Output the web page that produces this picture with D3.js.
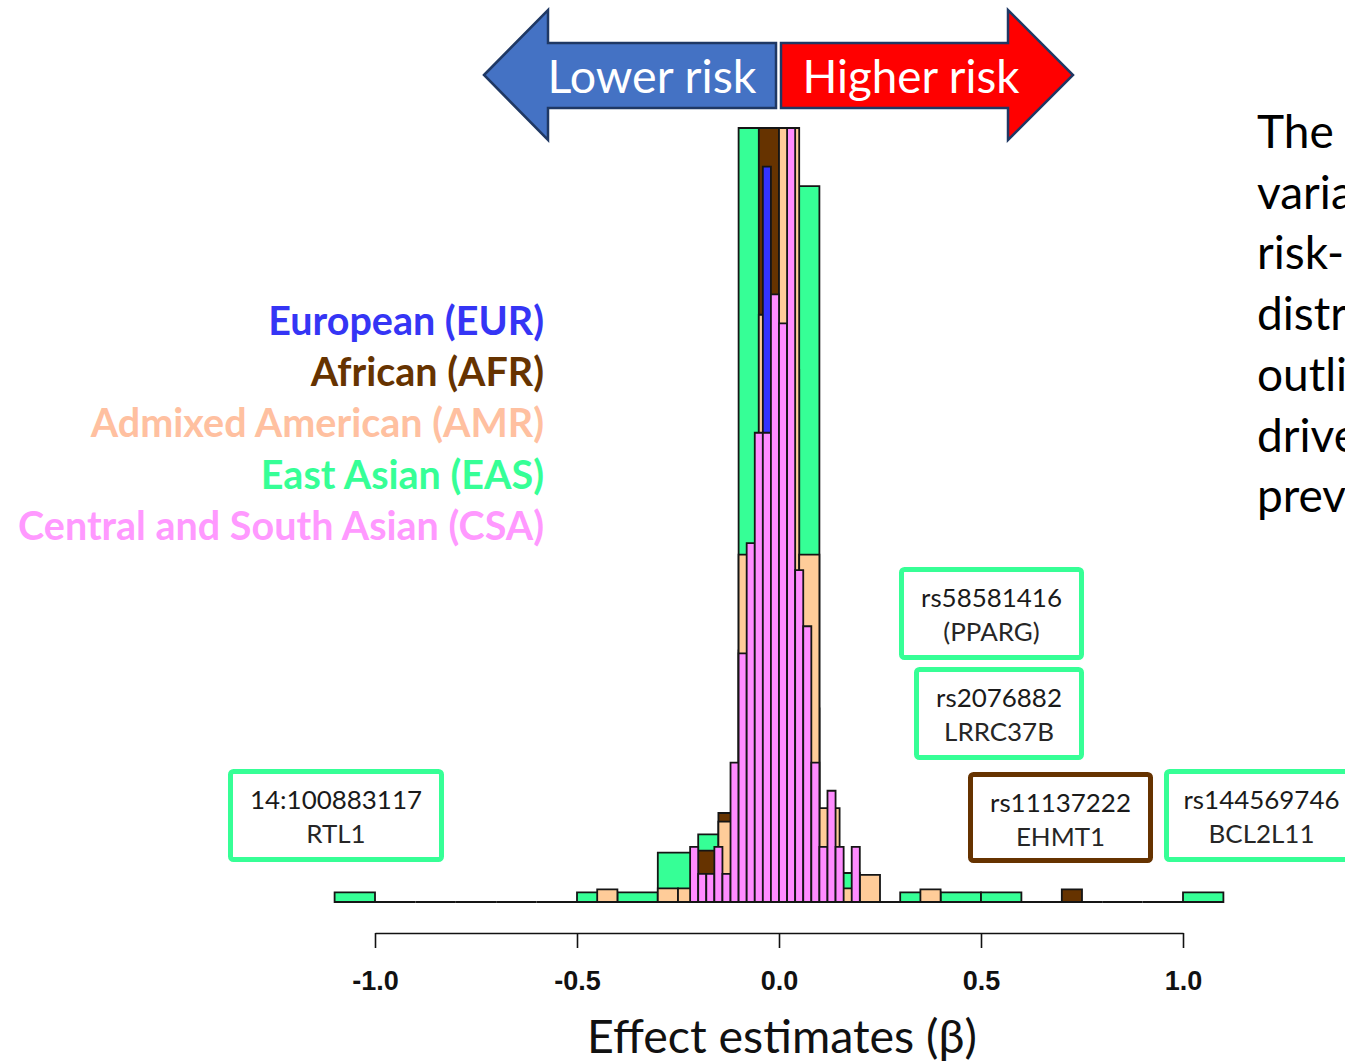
<!DOCTYPE html>
<html>
<head>
<meta charset="utf-8">
<script src="https://cdn.jsdelivr.net/npm/d3@7"></script>
<style>
  body { margin: 0; background: #fff; overflow: hidden; }
  svg { display: block; }
</style>
</head>
<body>
<div id="chart"></div>
<script>
// ---- data (densities; tall bars are clipped at the top) ----
const popOrder = ["EAS", "AFR", "AMR", "EUR", "CSA"];   // back to front
const legendLabels = ["European (EUR)", "African (AFR)", "Admixed American (AMR)", "East Asian (EAS)", "Central and South Asian (CSA)"];
const legendKeys = ["EUR", "AFR", "AMR", "EAS", "CSA"];

// East Asian, bins of 0.1 from -1.1
const easStart = -1.1, easBin = 0.1;
const easValues = [0.10, 0, 0, 0, 0, 0, 0.10, 0.10, 0.51, 0.70, 9.0, 7.40, 0.30, 0, 0.10, 0.10, 0.10, 0, 0, 0, 0, 0.10];

// African, bins of 0.05 from -0.2
const afrStart = -0.2, afrBin = 0.05;
const afrValues = [0.53, 0.92, 2.6, 9.0, 5.5, 2.0, 0.4, 0, 0, 0, 0, 0, 0, 0, 0, 0, 0, 0, 0.13];

// Admixed American, bins of 0.05 from -0.45
const amrStart = -0.45, amrBin = 0.05;
const amrValues = [0.13, 0, 0, 0.14, 0.14, 0.14, 0.83, 3.59, 6.07, 9.0, 3.59, 0.97, 0.14, 0.28, 0, 0, 0.13];

// European, bins of 0.02 from -0.08
const eurStart = -0.08, eurBin = 0.02;
const eurValues = [1.2, 3.2, 7.60, 5.2, 3.6, 2.0, 0.8];

// Central and South Asian, bins of 0.02 from -0.22
const csaStart = -0.22, csaBin = 0.02;
const csaValues = [0.57, 0.29, 0.29, 0.57, 0.29, 1.44, 2.57, 3.71, 4.85, 4.85, 6.28, 5.98, 9.0, 3.43, 2.85, 1.44, 0.57, 1.15, 0.57, 0, 0.57];

const xTicks = [-1.0, -0.5, 0.0, 0.5, 1.0];

const outlierTop = ["rs58581416", "rs2076882", "14:100883117", "rs11137222", "rs144569746"];
const outlierBottom = ["(PPARG)", "LRRC37B", "RTL1", "EHMT1", "BCL2L11"];
const outlierPop = ["EAS", "EAS", "EAS", "AFR", "EAS"];

// only the part of the side text that is visible in the picture
const sideText = ["The", "varia", "risk-", "distr", "outli", "drive", "prev"];

// ---- styles / layout ----
const W = 1345, H = 1063;
const barColor = { EAS: "#36ff96", AFR: "#663300", AMR: "#ffcc99", EUR: "#3333ff", CSA: "#ff8cff" };
const textColor = { EUR: "#3535f5", AFR: "#663300", AMR: "#ffc0a0", EAS: "#36ff96", CSA: "#ff99ff" };
const boxLayout = [
  { x: 901.5, y: 569.5, w: 180, h: 88 },
  { x: 916.5, y: 669.5, w: 165, h: 88 },
  { x: 230.5, y: 771.5, w: 211, h: 88 },
  { x: 970.5, y: 774.5, w: 180, h: 86 },
  { x: 1166.5, y: 771.5, w: 190, h: 88 }
];
const calibri = "Lato, 'Open Sans', sans-serif";

const svg = d3.select("#chart").append("svg").attr("width", W).attr("height", H);

const x = d3.scaleLinear().domain([-1, 1]).range([375, 1183]);
const y = d3.scaleLinear().domain([0, 8]).range([902, 128]).clamp(true);

function fit(sel, width) {
  const w = sel.node().getComputedTextLength();
  sel.attr("font-size", parseFloat(sel.attr("font-size")) * width / w);
  return sel;
}

// ---- histograms ----
const hist = {
  EAS: [easStart, easBin, easValues],
  AFR: [afrStart, afrBin, afrValues],
  AMR: [amrStart, amrBin, amrValues],
  EUR: [eurStart, eurBin, eurValues],
  CSA: [csaStart, csaBin, csaValues]
};

popOrder.forEach(key => {
  const [start, bin, vals] = hist[key];
  const bins = vals.map((v, i) => ({ x0: start + i * bin, x1: start + (i + 1) * bin, v }));
  svg.append("g")
    .selectAll("path")
    .data(bins)
    .join("path")
    .attr("d", d => `M${x(d.x0)},${y(0)}V${y(d.v)}H${x(d.x1)}V${y(0)}Z`)
    .attr("fill", barColor[key])
    .attr("stroke", "#151515")
    .attr("stroke-width", 1.8)
    .attr("stroke-linejoin", "miter");
});

// ---- axis ----
const axis = svg.append("g")
  .attr("transform", "translate(0,933)")
  .call(d3.axisBottom(x).tickValues(xTicks).tickSize(15).tickSizeOuter(0).tickPadding(23)
    .tickFormat(d => d.toFixed(1)));
axis.select(".domain").attr("stroke", "#111").attr("stroke-width", 1.6);
axis.selectAll(".tick line").attr("stroke", "#111").attr("stroke-width", 1.6);
axis.selectAll(".tick text")
  .attr("font-family", "'Liberation Sans', Arial, sans-serif")
  .attr("font-weight", "bold")
  .attr("font-size", 27)
  .attr("fill", "#111");

fit(svg.append("text")
  .attr("x", 782).attr("y", 1053)
  .attr("text-anchor", "middle")
  .attr("font-family", calibri)
  .attr("font-size", 40)
  .attr("fill", "#111")
  .text("Effect estimates (β)"), 390);

// ---- arrows ----
svg.append("polygon")
  .attr("points", [[484, 75], [548, 10], [548, 43], [776, 43], [776, 108], [548, 108], [548, 140]].join(" "))
  .attr("fill", "#4472c4").attr("stroke", "#1f3864").attr("stroke-width", 2.5);
svg.append("polygon")
  .attr("points", [[781, 43], [1008, 43], [1008, 10], [1073, 75], [1008, 140], [1008, 108], [781, 108]].join(" "))
  .attr("fill", "#ff0000").attr("stroke", "#1f3864").attr("stroke-width", 2.5);

fit(svg.append("text").attr("x", 652).attr("y", 93).attr("text-anchor", "middle")
  .attr("font-family", calibri).attr("font-size", 44).attr("fill", "#fff").text("Lower risk"), 209);
fit(svg.append("text").attr("x", 911).attr("y", 93).attr("text-anchor", "middle")
  .attr("font-family", calibri).attr("font-size", 44).attr("fill", "#fff").text("Higher risk"), 217);

// ---- legend ----
const legendBase = [335, 386, 437, 489, 540];
const leg = svg.append("g").selectAll("text")
  .data(legendLabels)
  .join("text")
  .attr("x", 544)
  .attr("y", (d, i) => legendBase[i])
  .attr("text-anchor", "end")
  .attr("font-family", calibri)
  .attr("font-weight", "bold")
  .attr("font-size", 34)
  .attr("fill", (d, i) => textColor[legendKeys[i]])
  .text(d => d);
const csaW = leg.filter((d, i) => i === 4).node().getComputedTextLength();
leg.attr("font-size", 34 * 526 / csaW);

// ---- outlier boxes ----
const boxes = svg.append("g").selectAll("g")
  .data(boxLayout)
  .join("g");
boxes.append("rect")
  .attr("x", d => d.x).attr("y", d => d.y)
  .attr("width", d => d.w).attr("height", d => d.h)
  .attr("rx", 3)
  .attr("fill", "#fff")
  .attr("stroke", (d, i) => barColor[outlierPop[i]])
  .attr("stroke-width", 5);
const t1 = boxes.append("text")
  .attr("x", d => d.x + d.w / 2)
  .attr("y", d => d.y + 37)
  .attr("text-anchor", "middle")
  .attr("font-family", calibri)
  .attr("font-size", 24)
  .attr("fill", "#1a1a1a")
  .text((d, i) => outlierTop[i]);
const t2 = boxes.append("text")
  .attr("x", d => d.x + d.w / 2)
  .attr("y", d => d.y + 71)
  .attr("text-anchor", "middle")
  .attr("font-family", calibri)
  .attr("font-size", 24)
  .attr("fill", "#262626")
  .text((d, i) => outlierBottom[i]);
const refW = t1.filter((d, i) => i === 0).node().getComputedTextLength();
const boxFs = 24 * 141 / refW;
t1.attr("font-size", boxFs);
t2.attr("font-size", boxFs);

// ---- side text, cut by the right edge as in the picture ----
svg.append("g").selectAll("text")
  .data(sideText)
  .join("text")
  .attr("x", 1257)
  .attr("y", (d, i) => 148 + i * 60.7)
  .attr("font-family", calibri)
  .attr("font-size", 46)
  .attr("fill", "#000")
  .text(d => d);
</script>
</body>
</html>
